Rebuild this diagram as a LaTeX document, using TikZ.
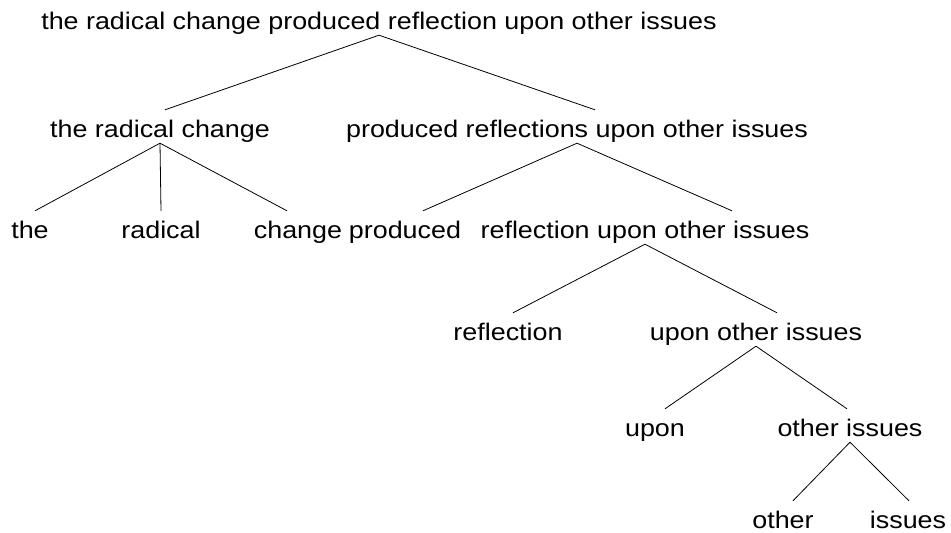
\documentclass[tikz,border=0pt]{standalone}
\usepackage{fontspec}
\setmainfont{Liberation Sans}[FakeStretch=1.12]
\usepackage{tikz}
\usetikzlibrary{positioning, calc}
\definecolor{treeblack}{RGB}{0,0,0}

\begin{document}
\begin{tikzpicture}[x=1pt, y=-1pt,
    word/.style={font=\fontsize{24}{28}\selectfont, anchor=base,
                 inner xsep=0pt, inner ysep=6pt,
                 text height=21pt, text depth=0pt},
    branch/.style={draw=treeblack, line width=0.8pt}]
    \useasboundingbox (0,0) rectangle (951,533);
    % words, one row per level of the tree
    \node[word] (root) at (379,29)  {the radical change produced reflection upon other issues};
    \node[word] (trc)  at (160,137) {the radical change};
    \node[word] (prf)  at (577,137) {produced reflections upon other issues};
    \node[word] (the)  at (30,238)  {the};
    \node[word] (rad)  at (161,238) {radical};
    \node[word] (chg)  at (298,238) {change};
    \node[word] (prd)  at (405,238) {produced};
    \node[word] (rfl)  at (645,238) {reflection upon other issues};
    \node[word] (rfn)  at (508,340) {reflection};
    \node[word] (uoi)  at (756,340) {upon other issues};
    \node[word] (upn)  at (655,436) {upon};
    \node[word] (ois)  at (850,436) {other issues};
    \node[word] (oth)  at (783,528) {other};
    \node[word] (iss)  at (908,528) {issues};
    % branches
    \draw[branch] (root.south) -- ([xshift=5pt]trc.north);
    \draw[branch] (root.south) -- ([xshift=18pt]prf.north);
    \draw[branch] (trc.south) -- ([xshift=5pt]the.north);
    \draw[branch] (trc.south) -- (rad.north);
    \draw[branch] (trc.south) -- ([xshift=-11pt]chg.north);
    \draw[branch] (prf.south) -- ([xshift=18pt]prd.north);
    \draw[branch] (prf.south) -- ([xshift=87pt]rfl.north);
    \draw[branch] (rfl.south) -- ([xshift=5pt]rfn.north);
    \draw[branch] (rfl.south) -- ([xshift=21pt]uoi.north);
    \draw[branch] (uoi.south) -- ([xshift=10pt]upn.north);
    \draw[branch] (uoi.south) -- ([xshift=-3pt]ois.north);
    \draw[branch] (ois.south) -- ([xshift=10pt]oth.north);
    \draw[branch] (ois.south) -- ([xshift=1pt]iss.north);
\end{tikzpicture}
\end{document}
